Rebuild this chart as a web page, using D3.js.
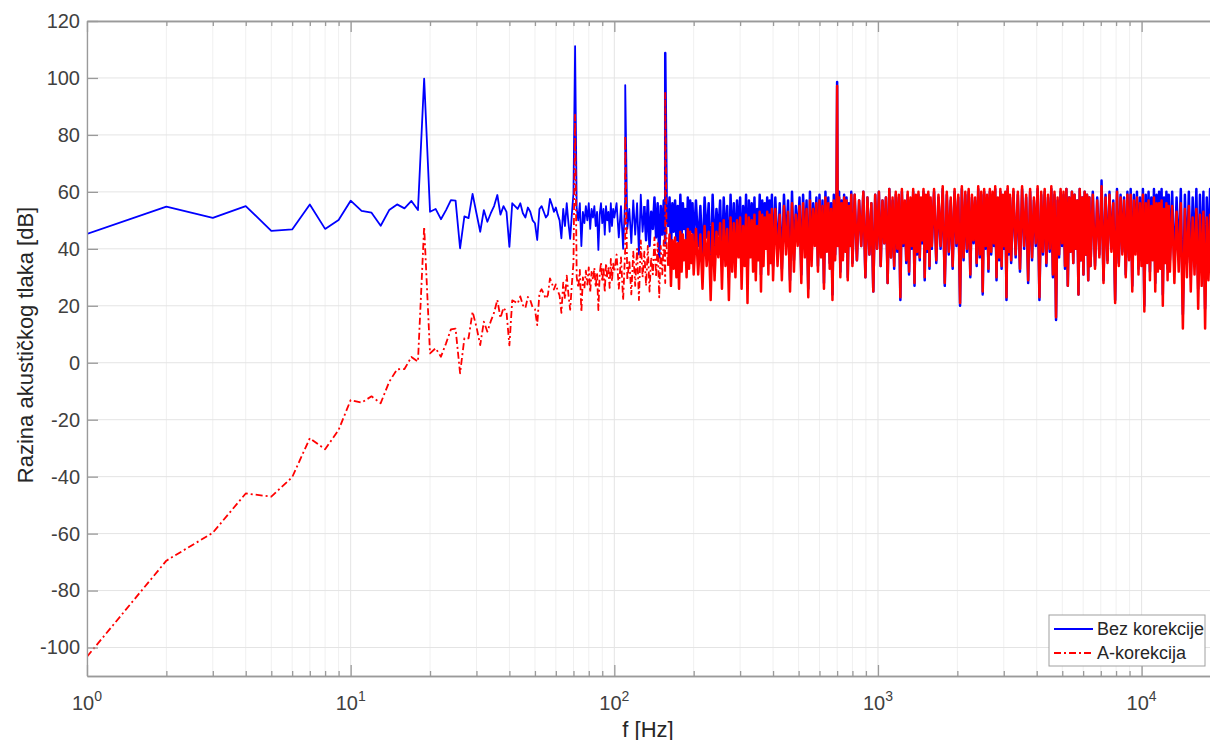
<!DOCTYPE html>
<html>
<head>
<meta charset="utf-8">
<script src="https://cdn.jsdelivr.net/npm/d3@7"></script>
<style>
body { margin: 0; background: #fff; }
text { font-family: "Liberation Sans", Arial, Helvetica, sans-serif; }
</style>
</head>
<body>
<script>
// spectrum, 1 Hz bins, f = 1..100 Hz
var lowBlue = [
  45.2, 54.8, 50.9, 55.0, 46.3, 46.8, 55.6, 47.0, 50.1, 56.9,
  53.3, 52.7, 48.1, 53.6, 55.6, 54.2, 56.8, 53.6, 99.8, 53.0,
  54.0, 50.4, 53.6, 57.1, 56.9, 40.2, 51.4, 50.8, 59.3, 52.5,
  46.0, 53.6, 49.5, 52.5, 55.0, 58.9, 52.0, 55.0, 53.0, 40.7,
  56.0, 55.0, 54.0, 56.0, 52.5, 51.0, 54.5, 53.0, 50.0, 49.0,
  43.1, 54.0, 55.0, 53.0, 51.0, 52.0, 57.5, 55.5, 53.0, 54.5,
  52.0, 50.0, 43.7, 54.0, 48.0, 56.0, 49.0, 43.5, 52.0, 59.5,
  111.2, 54.0, 50.0, 56.0, 41.0, 53.0, 49.0, 55.0, 50.0, 56.0,
  47.0, 54.0, 51.0, 55.0, 48.0, 53.0, 39.6, 52.0, 56.0, 49.0,
  54.0, 45.0, 55.0, 50.0, 53.0, 46.0, 56.0, 48.0, 54.0, 51.0
];
var lowRed = [
  -103.2, -69.5, -59.7, -45.9, -47.0, -40.2, -26.5, -30.4, -23.6, -13.1,
  -14.0, -11.8, -14.2, -6.7, -2.3, -2.2, 2.0, 0.4, 47.8, 3.3,
  5.1, 2.1, 6.8, 11.7, 12.0, -3.7, 8.6, 8.6, 17.9, 12.6,
  6.2, 14.4, 10.9, 14.6, 17.6, 22.1, 15.7, 19.3, 17.8, 6.1,
  21.9, 21.4, 20.8, 23.3, 20.2, 19.2, 23.1, 22.0, 19.4, 18.8,
  13.2, 24.5, 25.8, 24.2, 22.5, 23.8, 29.6, 27.9, 25.7, 27.5,
  25.3, 23.6, 17.5, 28.1, 22.4, 30.6, 23.9, 18.6, 27.4, 35.1,
  87.1, 30.1, 26.3, 32.6, 17.8, 30.0, 26.1, 32.3, 27.4, 33.5,
  24.7, 31.9, 29.1, 33.3, 26.5, 31.7, 18.5, 31.0, 35.2, 28.4,
  33.6, 24.7, 34.9, 30.0, 33.2, 26.3, 36.5, 28.6, 34.8, 31.9
];

// above 100 Hz the bins are thinned out: one value per bin of each octave band
var bandStart = [100, 200, 400, 800, 1600, 3200, 6400, 12800];
var bandStep = [2, 4, 8, 16, 32, 64, 128, 256];

var blue100 = [56,44,55,40,58,47,54,42,57,45,56,38,59,46,55,43,57,41,53,47,58,44,56,37,55,45,57,42,54,48,58,40,56,46,57,43,55,39,59,45,56,47,54,41,58,44,57,46,56,42];
var blue200 = [57,41,55,36,58,44,56,32,59,39,54,45,57,34,58,42,55,30,59,40,56,37,57,44,58,33,55,41,59,28,57,43,56,38,58,35,54,42,59,31,57,39,56,45,58,36,57,40,59,34];
var blue400 = [58,38,56,33,59,42,57,29,60,36,55,44,58,31,59,40,57,26,60,37,56,43,58,34,59,39,57,28,60,41,58,35,56,24,59,38,58,43,60,32,57,37,59,40,58,30,56,42,60,35];
var blue800 = [59,36,57,41,60,30,58,38,56,25,59,40,60,34,57,42,58,28,61,37,57,33,59,39,58,22,60,41,56,35,59,31,57,40,60,27,58,38,59,36,57,42,60,29,58,39,59,33,57,40];
var blue1600 = [60,35,58,40,61,27,59,38,57,33,60,41,58,20,61,36,59,39,60,30,58,42,57,34,61,37,59,24,60,40,58,32,60,38,59,41,61,29,57,36,60,33,58,40,59,22,61,38,58,35];
var blue3200 = [60,37,59,32,61,40,58,28,60,36,57,41,61,22,59,38,60,34,58,39,61,30,59,15,57,37,60,41,59,33,61,27,58,39,60,35,59,40,57,24,61,36,58,31,60,38,59,29,58,34];
var blue6400 = [60,34,58,38,61,29,59,36,60,40,57,22,61,35,59,39,58,31,60,37,61,27,59,40,60,33,58,36,61,20,59,38,60,32,58,39,61,28,59,35,60,37,61,24,58,39,60,33,59,36];
var blue12800 = [60,33,58,37,61,17,59,35,60,30,58,38,61,26,59,34,60,19,58,36,61,31,59,35];

var red100 = [38,26,37,22,40,29,36,24,39,27,40,22,43,30,39,27,41,25,37,31,44,30,42,23,41,31,43,28,40,34,45,27,43,33,44,30,42,26,46,32,45,36,43,30,47,33,46,35,45,31];
var red200 = [47,31,45,26,48,34,46,22,49,29,46,37,49,26,50,34,47,22,51,32,49,30,50,37,51,26,48,34,52,21,51,37,50,32,52,29,48,36,53,25,52,34,51,40,53,31,52,35,54,29];
var red400 = [54,34,52,29,55,38,53,25,56,32,52,41,55,28,56,37,54,23,57,34,54,41,56,32,57,37,55,26,58,39,56,33,54,22,57,36,56,41,58,30,56,36,58,39,57,29,55,41,59,34];
var red800 = [59,36,57,41,60,30,58,38,56,25,59,40,60,34,57,42,58,28,61,37,58,34,60,40,59,23,61,42,57,36,60,32,58,41,61,28,59,39,60,37,58,43,61,30,59,40,60,34,58,41];
var red1600 = [61,36,59,41,62,28,60,39,58,34,61,42,59,21,62,37,60,40,61,31,59,43,58,35,62,38,60,25,61,41,59,33,61,39,60,42,62,30,58,37,61,34,59,41,60,23,62,39,59,36];
var red3200 = [61,38,60,33,62,41,59,29,61,37,58,42,62,23,60,39,61,35,59,40,62,31,60,16,58,38,61,42,60,34,61,27,58,39,60,35,59,40,57,24,61,36,58,31,60,38,59,29,58,34];
var red6400 = [59,33,57,37,60,28,58,35,59,39,56,21,60,34,58,38,57,30,59,36,59,25,57,38,58,31,56,34,59,18,56,35,57,29,55,36,58,25,56,32,56,33,57,20,54,35,56,29,55,32];
var red12800 = [55,28,53,32,56,12,54,30,55,25,51,31,54,19,52,27,53,12,51,29,52,22,50,26];

// tonal peaks
var peakFreq = [110, 156, 700, 7046];
var peakBlue = [97.5, 108.8, 98.6, 64];
var peakRed = [79.7, 95.1, 97.2, 62];

var yTicks = [-100, -80, -60, -40, -20, 0, 20, 40, 60, 80, 100, 120];
var xDecades = [1, 10, 100, 1000, 10000];
var seriesNames = ["Bez korekcije", "A-korekcija"];

var width = 1210,
    height = 740;

var x = d3.scaleLog()
    .domain([1, 20000])
    .range([87, 1221]);

var y = d3.scaleLinear()
    .domain([-110, 120])
    .range([676, 21]);

function buildSeries(low, bands, peaks) {
    var pts = low.map(function(v, i) { return {f: i + 1, v: v}; });
    bands.forEach(function(vals, b) {
        vals.forEach(function(v, k) {
            pts.push({f: bandStart[b] + bandStep[b] * (k + 1), v: v});
        });
    });
    peaks.forEach(function(v, i) { pts.push({f: peakFreq[i], v: v}); });
    pts.sort(function(a, b) { return a.f - b.f; });
    return pts;
}

var blueData = buildSeries(lowBlue, [blue100, blue200, blue400, blue800, blue1600, blue3200, blue6400, blue12800], peakBlue);
var redData = buildSeries(lowRed, [red100, red200, red400, red800, red1600, red3200, red6400, red12800], peakRed);

var xMinor = [];
xDecades.forEach(function(d) {
    for (var m = 2; m <= 9; m++) {
        if (d * m <= 20000) xMinor.push(d * m);
    }
});

var svg = d3.select("body").append("svg")
    .attr("width", width)
    .attr("height", height);

svg.append("defs").append("clipPath")
    .attr("id", "plotclip")
    .append("rect")
    .attr("x", 87).attr("y", 21)
    .attr("width", 1221 - 87).attr("height", 676 - 21);

// grid
svg.append("g").selectAll("line")
    .data(xMinor)
    .enter().append("line")
    .attr("x1", function(d) { return x(d); })
    .attr("x2", function(d) { return x(d); })
    .attr("y1", 21).attr("y2", 676)
    .attr("stroke", "#f0f0f0")
    .attr("stroke-width", 1);

svg.append("g").selectAll("line")
    .data(xDecades)
    .enter().append("line")
    .attr("x1", function(d) { return x(d); })
    .attr("x2", function(d) { return x(d); })
    .attr("y1", 21).attr("y2", 676)
    .attr("stroke", "#e4e4e4")
    .attr("stroke-width", 1);

svg.append("g").selectAll("line")
    .data(yTicks)
    .enter().append("line")
    .attr("x1", 87).attr("x2", 1221)
    .attr("y1", function(d) { return y(d); })
    .attr("y2", function(d) { return y(d); })
    .attr("stroke", "#e4e4e4")
    .attr("stroke-width", 1);

// data; the thinned-out dense part gets a wider pen so it reads as a solid band
var line = d3.line()
    .x(function(d) { return x(d.f); })
    .y(function(d) { return y(d.v); });

var plot = svg.append("g").attr("clip-path", "url(#plotclip)");

function drawSeries(data, color, split, dash) {
    plot.append("path")
        .datum(data.filter(function(d) { return d.f <= split; }))
        .attr("d", line)
        .attr("fill", "none")
        .attr("stroke", color)
        .attr("stroke-width", 1.8)
        .attr("stroke-linejoin", "round")
        .attr("stroke-dasharray", dash);

    plot.append("path")
        .datum(data.filter(function(d) { return d.f >= split; }))
        .attr("d", line)
        .attr("fill", "none")
        .attr("stroke", color)
        .attr("stroke-width", 2.5)
        .attr("stroke-linejoin", "round");
}

drawSeries(blueData, "#0000ff", 130, null);
drawSeries(redData, "#ff0000", 160, "7,3,2,3");

// axes
function styleAxis(g) {
    g.selectAll("path").attr("stroke", "#9a9a9a").attr("stroke-width", 1.3);
    g.selectAll("line").attr("stroke", "#9a9a9a").attr("stroke-width", 1.3);
    g.selectAll("text").attr("fill", "#404040").style("font-size", "20px");
}

svg.append("g")
    .attr("transform", "translate(0,676)")
    .call(d3.axisBottom(x).tickValues(xDecades).tickSizeInner(-11).tickSizeOuter(0).tickFormat(""))
    .call(styleAxis);

svg.append("g")
    .attr("transform", "translate(0,676)")
    .call(d3.axisBottom(x).tickValues(xMinor).tickSizeInner(-5).tickSizeOuter(0).tickFormat(""))
    .call(styleAxis);

svg.append("g")
    .attr("transform", "translate(0,21)")
    .call(d3.axisTop(x).tickValues(xDecades).tickSizeInner(-11).tickSizeOuter(0).tickFormat(""))
    .call(styleAxis);

svg.append("g")
    .attr("transform", "translate(0,21)")
    .call(d3.axisTop(x).tickValues(xMinor).tickSizeInner(-5).tickSizeOuter(0).tickFormat(""))
    .call(styleAxis);

svg.append("g")
    .attr("transform", "translate(87,0)")
    .call(d3.axisLeft(y).tickValues(yTicks).tickSizeInner(-11).tickSizeOuter(0).tickPadding(7)
        .tickFormat(function(d) { return String(d); }))
    .call(styleAxis);

// decade labels 10^n
var xLabels = svg.append("g").selectAll("text")
    .data(xDecades)
    .enter().append("text")
    .attr("x", function(d) { return x(d); })
    .attr("y", 710)
    .attr("text-anchor", "middle")
    .attr("fill", "#404040")
    .style("font-size", "20px");

xLabels.append("tspan").text("10");
xLabels.append("tspan")
    .attr("dy", -9)
    .style("font-size", "14px")
    .text(function(d) { return Math.round(Math.log10(d)); });

svg.append("text")
    .attr("x", 648)
    .attr("y", 737)
    .attr("text-anchor", "middle")
    .attr("fill", "#262626")
    .style("font-size", "22px")
    .text("f [Hz]");

svg.append("text")
    .attr("transform", "translate(33,345) rotate(-90)")
    .attr("text-anchor", "middle")
    .attr("fill", "#262626")
    .style("font-size", "22px")
    .text("Razina akustičkog tlaka [dB]");

// legend
var legend = svg.append("g");
legend.append("rect")
    .attr("x", 1049).attr("y", 615)
    .attr("width", 156).attr("height", 51)
    .attr("fill", "#fff")
    .attr("stroke", "#a0a0a0")
    .attr("stroke-width", 1);

var legendColors = ["#0000ff", "#ff0000"];
var legendDash = [null, "7,3,2,3"];

var items = legend.selectAll("g.item")
    .data(seriesNames)
    .enter().append("g")
    .attr("class", "item")
    .attr("transform", function(d, i) { return "translate(0," + (629 + i * 24) + ")"; });

items.append("line")
    .attr("x1", 1054).attr("x2", 1093)
    .attr("stroke", function(d, i) { return legendColors[i]; })
    .attr("stroke-width", 1.8)
    .attr("stroke-dasharray", function(d, i) { return legendDash[i]; });

items.append("text")
    .attr("x", 1097)
    .attr("dy", "0.35em")
    .attr("fill", "#262626")
    .style("font-size", "18px")
    .text(function(d) { return d; });
</script>
</body>
</html>
